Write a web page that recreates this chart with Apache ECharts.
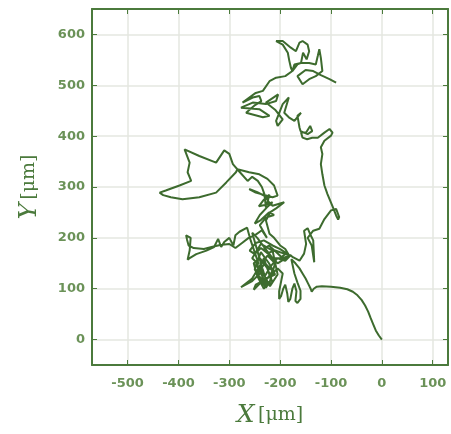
<!DOCTYPE html>
<html>
<head>
<meta charset="utf-8">
<script src="https://cdn.jsdelivr.net/npm/echarts@6/dist/echarts.min.js"></script>
<style>html,body{margin:0;padding:0;background:#fff;}</style>
</head>
<body>
<div id="main" style="width:451px;height:434px;"></div>
<script>
// trajectory (um)
var pathX = [
  0,-6,-12,-17,-22,-27,-33,-40,-48,-57,-68,-82,-100,-118,-128,-134,-138,-140,
  -145,-150,-156,-162,-170,-178,
  -172,-166,-160,-160,-166,-170,-168,-172,-176,-180,-184,-186,-190,-194,-198,-202,-202,-198,-195,
  -205,-220,-235,-248,-252,-240,-225,-215,-230,-245,-240,-228,-215,-225,-240,-252,-245,-232,-220,-210,-225,-240,-255,-277,
  -255,-240,-230,-218,-205,-190,-180,-195,-210,-225,-238,-250,-260,-248,-232,-215,-200,-188,-200,-215,-230,-245,-255,
  -235,-225,-245,-232,-218,-228,-250,-238,-222,-210,-232,-248,-236,-220,-205,-215,-238,-255,-242,-258,
  -265,-280,-288,-292,-300,-310,-316,-322,-330,-345,-365,-378,-382,-378,-376,-385,-388,-383,-380,-370,-350,-335,-318,-300,-288,-275,-262,
  -250,-236,-226,-240,-228,-212,-222,-238,-250,-240,-226,-215,-228,-242,-232,-221,
  -228,-231,-236,-244,-255,-264,-280,-293,-290,
  -300,-310,-326,-359,-388,-378,-382,-375,-398,-425,-437,-430,-415,-392,-359,-326,-306,-287,-284,
  -261,-241,-225,-212,-205,-215,-248,-261,-245,-230,-222,-215,-192,-208,-220,-228,-221,
  -212,-200,-190,-182,-195,-208,-222,-232,-218,-205,-192,-180,-175,
  -162,-153,-149,-153,-146,-140,-135,-133,-138,-146,-135,-123,-113,-100,-90,-84,-86,-90,-97,
  -107,-113,-117,-120,-117,-120,-113,-100,-97,-103,-113,-126,-137,-147,-156,-159,-149,-141,-137,-146,-160,
  -162,-166,-159,-172,-183,-192,-183,-195,-208,-205,-195,-210,-228,-204,-208,-228,-254,-277,-241,-221,-234,-267,-251,-237,-241,-254,-274,-262,-248,
  -234,-221,-208,-190,-176,-179,-182,-185,-195,-208,-211,-195,-179,-169,-162,-156,-146,-143,-148,-155,-159,-166,-176,
  -172,-159,-143,-130,-126,-123,-120,-117,-130,-143,-156,-166,-150,-135,-120,-103,-90
];
var pathY = [
  0,8,18,30,42,55,67,78,87,94,99,102,104,105,104,100,94,100,
  110,120,130,140,150,158,
  130,112,96,80,72,76,95,110,100,80,74,90,108,100,86,80,95,115,130,
  140,125,115,108,98,110,120,135,150,130,118,108,112,140,160,150,125,100,115,150,165,145,120,103,
  115,130,125,145,160,155,165,170,175,170,180,168,175,190,195,185,178,170,160,160,180,200,210,
  140,108,128,160,118,102,138,172,150,128,118,150,135,105,128,175,188,160,148,195,
  220,212,205,185,200,192,182,198,182,175,168,160,157,175,200,205,208,196,185,180,178,182,186,188,180,190,200,
  205,215,200,225,240,245,250,235,228,245,260,270,265,262,275,285,
  260,286,300,312,320,312,330,345,342,
  365,372,348,361,374,348,329,312,303,293,289,284,280,276,280,289,309,329,335,
  329,325,316,303,283,280,289,296,290,282,270,263,270,258,250,234,208,
  200,185,178,165,160,172,185,178,162,150,158,166,162,
  155,169,188,214,219,205,195,152,185,200,214,218,237,254,257,241,236,244,262,
  286,303,325,345,365,378,391,401,407,414,407,397,397,394,397,407,407,420,410,404,410,
  417,440,446,430,437,446,476,463,430,420,433,452,466,482,469,463,466,456,453,440,437,446,460,469,479,476,466,475,485,
  489,508,515,518,528,535,548,564,580,587,587,587,574,567,584,587,580,567,551,564,544,541,528,
  541,544,544,541,558,571,554,528,518,512,502,518,530,528,520,512,505
];
var xTicks = [-500, -400, -300, -200, -100, 0, 100];
var yTicks = [0, 100, 200, 300, 400, 500, 600];

var pts = pathX.map(function (x, i) { return [x, pathY[i]]; });

var frame = '#4b7a3c';
var txt = '#6b9258';
var gridCol = '#e4e7e0';

var chart = echarts.init(document.getElementById('main'));

function axisBase(extra) {
  var a = {
    type: 'value',
    axisLine: { show: true, onZero: false, lineStyle: { color: frame, width: 2 } },
    splitLine: { show: false },
    axisLabel: { show: false }
  };
  for (var k in extra) a[k] = extra[k];
  return a;
}

function ticks(vals) {
  return { show: true, inside: true, length: 5, customValues: vals, lineStyle: { color: frame, width: 1 } };
}

var nameStyle = {
  color: frame,
  rich: {
    i: { fontFamily: 'DejaVu Serif', fontStyle: 'italic', fontSize: 25, color: frame },
    n: { fontFamily: 'DejaVu Serif', fontSize: 19, color: frame }
  }
};

chart.setOption({
  animation: false,
  grid: { left: 92, right: 3, top: 9, bottom: 69 },
  xAxis: [
    axisBase({
      position: 'bottom', min: -570, max: 130, interval: 100,
      axisTick: ticks(xTicks),
      splitLine: { show: true, lineStyle: { color: gridCol, width: 1.5 } },
      axisLabel: {
        show: true, margin: 12, color: txt, fontFamily: 'DejaVu Sans', fontSize: 13, fontWeight: 'bold',
        customValues: xTicks
      },
      name: '{i|X} {n|[\u03bcm]}', nameLocation: 'middle', nameGap: 38,
      nameTextStyle: nameStyle
    }),
    axisBase({ position: 'top', min: -570, max: 130, interval: 100, axisTick: ticks(xTicks) })
  ],
  yAxis: [
    axisBase({
      position: 'left', min: -50, max: 650, interval: 50,
      axisTick: ticks(yTicks),
      splitLine: { show: true, lineStyle: { color: gridCol, width: 1.5 } },
      axisLabel: {
        show: true, margin: 7, color: txt, fontFamily: 'DejaVu Sans', fontSize: 13, fontWeight: 'bold',
        customValues: yTicks
      },
      name: '{i|Y} {n|[\u03bcm]}', nameLocation: 'middle', nameGap: 50, nameRotate: 90,
      nameTextStyle: nameStyle
    }),
    axisBase({ position: 'right', min: -50, max: 650, interval: 50, axisTick: ticks(yTicks) })
  ],
  series: [
    {
      type: 'line', data: pts, xAxisIndex: 0, yAxisIndex: 0,
      showSymbol: false, smooth: false,
      lineStyle: { color: '#3d6b2e', width: 2 }
    }
  ]
});
</script>
</body>
</html>
